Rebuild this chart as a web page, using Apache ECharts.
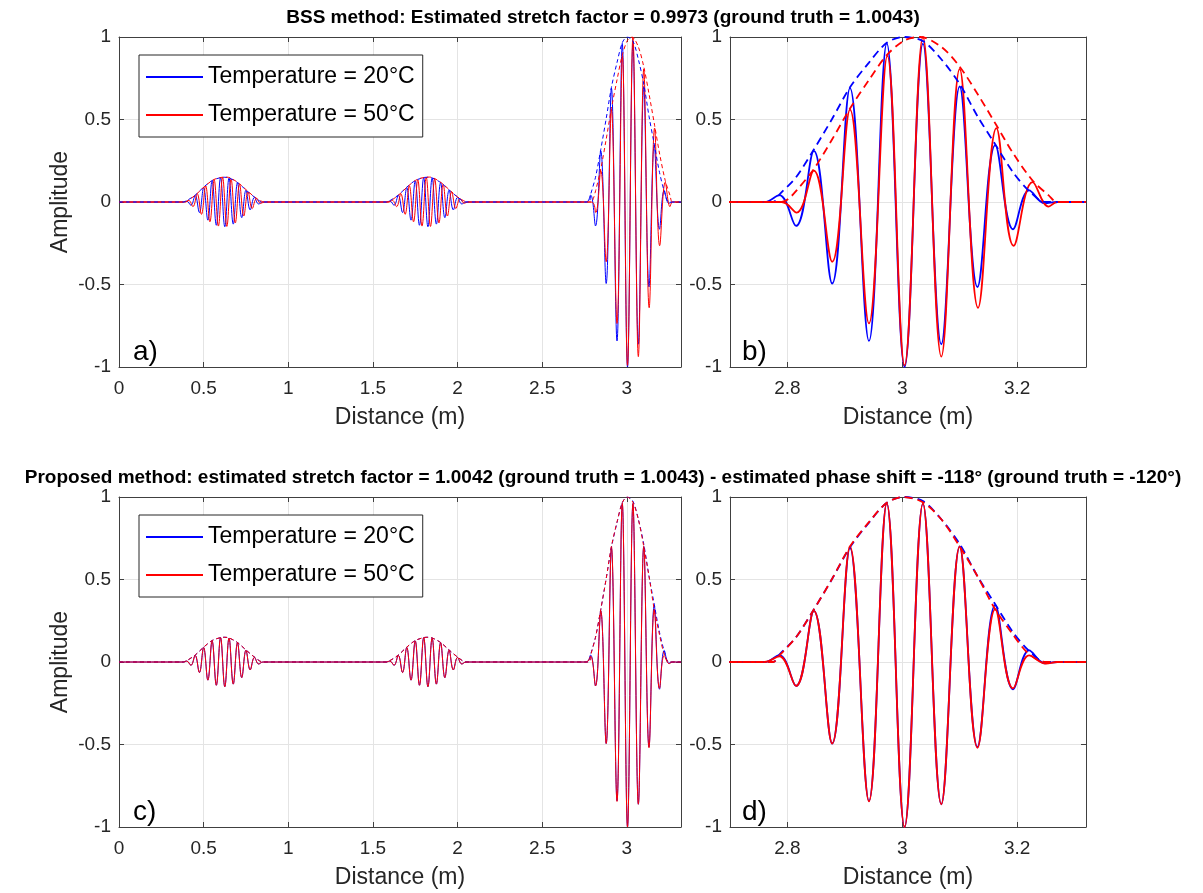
<!DOCTYPE html>
<html><head><meta charset="utf-8">
<script src="https://cdn.jsdelivr.net/npm/echarts@6/dist/echarts.min.js"></script>
<style>html,body{margin:0;padding:0;background:#fff}#c{width:1203px;height:893px}</style>
</head><body><div id="c"></div>
<script>
// ---- tick labels / ranges ----
const xTicksFull = [0, 0.5, 1, 1.5, 2, 2.5, 3];
const xTicksZoom = [2.8, 3, 3.2];
const yTicks = [-1, -0.5, 0, 0.5, 1];
const xRangeFull = [0, 3.32];
const xRangeZoom = [2.7, 3.32];

// ---- 20°C reference signal (extrema) ----
const refX = [0, 0.38,
  0.400,0.425,0.450,0.475,0.500,0.525,0.550,0.575,0.600,0.625,0.650,0.675,0.700,0.725,0.750,0.775,0.800,0.825, 0.85,
  1.58,
  1.600,1.625,1.650,1.675,1.700,1.725,1.750,1.775,1.800,1.825,1.850,1.875,1.900,1.925,1.950,1.975,2.000,2.025, 2.05,
  2.76,
  2.786,2.815,2.846,2.878,2.909,2.942,2.973,3.004,3.036,3.068,3.100,3.131,3.162,3.193,3.221,3.248, 3.27, 3.32];
const refY = [0, 0,
  0.006,-0.02,0.04,-0.064,0.088,-0.11,0.128,-0.141,0.148,-0.15,0.145,-0.134,0.117,-0.095,0.071,-0.048,0.028,-0.012, 0,
  0,
  0.006,-0.02,0.04,-0.064,0.088,-0.11,0.128,-0.141,0.148,-0.15,0.145,-0.134,0.117,-0.095,0.071,-0.048,0.028,-0.012, 0,
  0,
  0.042,-0.145,0.31,-0.494,0.69,-0.842,0.961,-1.0,0.96,-0.862,0.70,-0.515,0.345,-0.165,0.07,-0.008, 0, 0];

// ---- 50°C signal, BSS method ----
const bssX = [0, 0.39,
  0.412,0.437,0.462,0.487,0.512,0.537,0.562,0.587,0.612,0.637,0.662,0.687,0.712,0.737,0.762,0.787,0.812,0.837, 0.86,
  1.59,
  1.615,1.640,1.665,1.690,1.715,1.740,1.765,1.790,1.815,1.840,1.865,1.890,1.915,1.940,1.965,1.990,2.015,2.040, 2.06,
  2.79,
  2.816,2.846,2.878,2.909,2.942,2.974,3.004,3.036,3.068,3.100,3.132,3.164,3.194,3.227,3.255, 3.27, 3.32];
const bssY = [0, 0,
  0.01,-0.028,0.05,-0.075,0.098,-0.12,0.135,-0.146,0.15,-0.148,0.14,-0.127,0.108,-0.085,0.062,-0.04,0.02,-0.008, 0,
  0,
  0.01,-0.028,0.05,-0.075,0.098,-0.12,0.135,-0.146,0.15,-0.148,0.14,-0.127,0.108,-0.085,0.062,-0.04,0.02,-0.008, 0,
  0,
  -0.064,0.19,-0.362,0.56,-0.736,0.886,-0.99,1.0,-0.937,0.806,-0.641,0.448,-0.265,0.12,-0.028, 0, 0];

// ---- 50°C signal, proposed method ----
const propX = [0, 0.38,
  0.400,0.425,0.450,0.475,0.500,0.525,0.550,0.575,0.600,0.625,0.650,0.675,0.700,0.725,0.750,0.775,0.800,0.825, 0.85,
  1.58,
  1.600,1.625,1.650,1.675,1.700,1.725,1.750,1.775,1.800,1.825,1.850,1.875,1.900,1.925,1.950,1.975,2.000,2.025, 2.05,
  2.76,
  2.786,2.815,2.846,2.878,2.909,2.942,2.973,3.004,3.036,3.068,3.100,3.131,3.162,3.193,3.221,3.250, 3.27, 3.32];
const propY = [0, 0,
  0.006,-0.02,0.04,-0.064,0.088,-0.11,0.128,-0.141,0.148,-0.15,0.145,-0.134,0.117,-0.095,0.071,-0.048,0.028,-0.012, 0,
  0,
  0.006,-0.02,0.04,-0.064,0.088,-0.11,0.128,-0.141,0.148,-0.15,0.145,-0.134,0.117,-0.095,0.071,-0.048,0.028,-0.012, 0,
  0,
  0.035,-0.145,0.31,-0.494,0.70,-0.845,0.962,-1.0,0.96,-0.862,0.70,-0.52,0.32,-0.16,0.04,-0.01, 0, 0];

// ---- envelopes (dashed) ----
const refEnvX = [0, 0.38, 0.40, 0.45, 0.50, 0.55, 0.60, 0.625, 0.65, 0.70, 0.75, 0.80, 0.85,
  1.58, 1.60, 1.65, 1.70, 1.75, 1.80, 1.825, 1.85, 1.90, 1.95, 2.00, 2.05,
  2.775, 2.786, 2.815, 2.846, 2.878, 2.909, 2.942, 2.973, 3.002, 3.036, 3.068, 3.100, 3.131, 3.160, 3.193, 3.220, 3.249, 3.32];
const refEnvY = [0, 0, 0.008, 0.042, 0.09, 0.13, 0.148, 0.15, 0.146, 0.118, 0.073, 0.03, 0,
  0, 0.008, 0.042, 0.09, 0.13, 0.148, 0.15, 0.146, 0.118, 0.073, 0.03, 0,
  0, 0.045, 0.15, 0.318, 0.505, 0.695, 0.845, 0.965, 1.0, 0.975, 0.865, 0.715, 0.52, 0.36, 0.18, 0.07, 0, 0];
const bssEnvX = [0, 0.39, 0.41, 0.46, 0.51, 0.56, 0.61, 0.635, 0.66, 0.71, 0.76, 0.81, 0.86,
  1.59, 1.61, 1.66, 1.71, 1.76, 1.81, 1.835, 1.86, 1.91, 1.96, 2.01, 2.06,
  2.79, 2.802, 2.816, 2.846, 2.878, 2.909, 2.942, 2.973, 3.004, 3.031, 3.068, 3.100, 3.132, 3.164, 3.194, 3.227, 3.255, 3.269, 3.32];
const bssEnvY = [0, 0, 0.01, 0.05, 0.098, 0.136, 0.15, 0.151, 0.145, 0.112, 0.066, 0.024, 0,
  0, 0.01, 0.05, 0.098, 0.136, 0.15, 0.151, 0.145, 0.112, 0.066, 0.024, 0,
  0, 0.02, 0.07, 0.2, 0.38, 0.567, 0.74, 0.89, 0.98, 1.0, 0.94, 0.82, 0.65, 0.465, 0.29, 0.13, 0.04, 0, 0];
const propEnvX = refEnvX;
const propEnvY = [0, 0, 0.008, 0.042, 0.09, 0.13, 0.148, 0.15, 0.146, 0.118, 0.073, 0.03, 0,
  0, 0.008, 0.042, 0.09, 0.13, 0.148, 0.15, 0.146, 0.118, 0.073, 0.03, 0,
  0, 0.04, 0.15, 0.318, 0.505, 0.70, 0.848, 0.965, 1.0, 0.968, 0.865, 0.70, 0.52, 0.33, 0.165, 0.05, 0, 0];

// ---- text ----
const name20 = 'Temperature = 20°C';
const name50 = 'Temperature = 50°C';
const titleTop = 'BSS method: Estimated stretch factor = 0.9973 (ground truth = 1.0043)';
const titleBottom = 'Proposed method: estimated stretch factor = 1.0042 (ground truth = 1.0043) - estimated phase shift = -118° (ground truth = -120°)';
const panelLabels = ['a)', 'b)', 'c)', 'd)'];

const zip = (xs, ys) => xs.map((x, i) => [x, ys[i]]);
const F = "'Liberation Sans', Arial, Helvetica, sans-serif";
const AX = '#404040', TXT = '#262626', GRIDC = '#e4e4e4';
const BLUE = '#0000ff', RED = '#ff0000';

const grids = [
  {left: 119, top: 37, width: 562, height: 330},
  {left: 730, top: 37, width: 356, height: 330},
  {left: 119, top: 497, width: 562, height: 330},
  {left: 730, top: 497, width: 356, height: 330}
];
const panelX = [xTicksFull, xTicksZoom, xTicksFull, xTicksZoom];
const panelR = [xRangeFull, xRangeZoom, xRangeFull, xRangeZoom];

const xAxis = [], yAxis = [], series = [], graphic = [];
grids.forEach((g, i) => {
  [false, true].forEach(sec => {
    xAxis.push({type: 'value', gridIndex: i, position: sec ? 'top' : 'bottom',
      min: panelR[i][0], max: panelR[i][1],
      axisLine: {show: true, onZero: false, lineStyle: {color: AX, width: 1}},
      axisTick: {show: true, inside: true, length: 5, customValues: panelX[i], lineStyle: {color: AX}},
      axisLabel: {show: !sec, customValues: panelX[i], margin: 12, color: TXT, fontSize: 19, fontFamily: F},
      splitLine: {show: !sec, lineStyle: {color: GRIDC, width: 1}}
    });
    yAxis.push({type: 'value', gridIndex: i, position: sec ? 'right' : 'left',
      min: -1, max: 1,
      axisLine: {show: true, onZero: false, lineStyle: {color: AX, width: 1}},
      axisTick: {show: true, inside: true, length: 5, customValues: yTicks, lineStyle: {color: AX}},
      axisLabel: {show: !sec, customValues: yTicks, margin: 8, color: TXT, fontSize: 19, fontFamily: F},
      splitLine: {show: !sec, lineStyle: {color: GRIDC, width: 1}}
    });
  });
  const zoom = (i % 2 === 1);
  const lw = zoom ? 1.8 : 1;
  const dash = zoom ? [8, 5] : [4, 3];
  const top = i < 2;
  const redX = top ? bssX : propX, redY = top ? bssY : propY;
  const redEX = top ? bssEnvX : propEnvX, redEY = top ? bssEnvY : propEnvY;
  const common = {type: 'line', xAxisIndex: 2 * i, yAxisIndex: 2 * i, showSymbol: false, symbol: 'none',
    animation: false, silent: true, clip: true};
  series.push(Object.assign({}, common, {name: name20, data: zip(refX, refY), smooth: 0.4,
    lineStyle: {color: BLUE, width: lw}, itemStyle: {color: BLUE}}));
  series.push(Object.assign({}, common, {name: name50, data: zip(redX, redY), smooth: 0.4,
    lineStyle: {color: RED, width: lw}, itemStyle: {color: RED}}));
  series.push(Object.assign({}, common, {name: 'env20', data: zip(refEnvX, refEnvY), smooth: 0.3,
    lineStyle: {color: BLUE, width: lw, type: dash}, itemStyle: {color: BLUE}}));
  series.push(Object.assign({}, common, {name: 'env50', data: zip(redEX, redEY), smooth: 0.3,
    lineStyle: {color: RED, width: lw, type: dash, dashOffset: (i === 0) ? 3.5 : 0}, itemStyle: {color: RED}}));

  graphic.push({type: 'text', x: g.left + (zoom ? 12 : 14), y: g.top + g.height - 15,
    style: {text: panelLabels[i], fontSize: 28, fontFamily: F, fill: '#000',
      align: 'left', verticalAlign: 'middle', textAlign: 'left', textVerticalAlign: 'middle'}});
  graphic.push({type: 'text', x: g.left + g.width / 2, y: g.top + g.height + 51,
    style: {text: 'Distance (m)', fontSize: 23, fontFamily: F, fill: TXT,
      align: 'center', verticalAlign: 'middle', textAlign: 'center', textVerticalAlign: 'middle'}});
  if (!zoom) {
    graphic.push({type: 'text', x: 61, y: g.top + g.height / 2, rotation: Math.PI / 2,
      style: {text: 'Amplitude', fontSize: 23, fontFamily: F, fill: TXT,
        align: 'center', verticalAlign: 'middle', textAlign: 'center', textVerticalAlign: 'middle'}});
  }
});
graphic.push({type: 'text', x: 603, y: 18,
  style: {text: titleTop, fontSize: 19, fontWeight: 'bold', fontFamily: F, fill: '#000',
    align: 'center', verticalAlign: 'middle', textAlign: 'center', textVerticalAlign: 'middle'}});
graphic.push({type: 'text', x: 603, y: 478,
  style: {text: titleBottom, fontSize: 19, fontWeight: 'bold', fontFamily: F, fill: '#000',
    align: 'center', verticalAlign: 'middle', textAlign: 'center', textVerticalAlign: 'middle'}});

const legendBase = {orient: 'vertical', data: [name20, name50], icon: 'rect', itemWidth: 57, itemHeight: 2,
  itemGap: 10, padding: [8, 8, 8, 7], backgroundColor: '#fff', borderColor: '#262626', borderWidth: 1,
  borderRadius: 0, selectedMode: false,
  textStyle: {fontSize: 23, fontFamily: F, color: '#000', lineHeight: 28}};
const legend = [Object.assign({}, legendBase, {left: 139, top: 55}),
                Object.assign({}, legendBase, {left: 139, top: 515})];

const chart = echarts.init(document.getElementById('c'), null, {renderer: 'canvas'});
chart.setOption({animation: false, backgroundColor: '#fff', grid: grids, xAxis, yAxis, series, legend, graphic});
</script></body></html>
